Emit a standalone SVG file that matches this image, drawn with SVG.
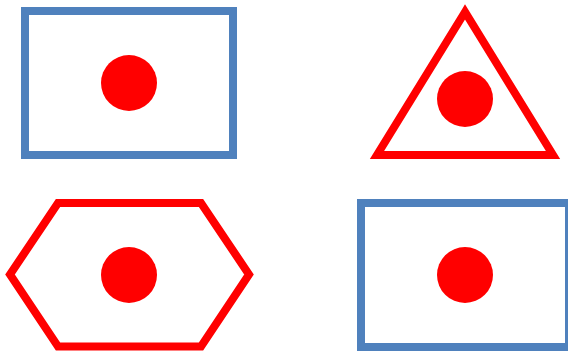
<svg xmlns="http://www.w3.org/2000/svg" width="568" height="353" viewBox="0 0 568 353">
<style>
.blue{fill:#fff;stroke:#4F81BD;stroke-width:8}
.red{fill:#fff;stroke:#FF0000;stroke-width:8;stroke-linejoin:miter}
.dot{fill:#FF0000}
</style>
<rect width="568" height="353" fill="#fff"/>
<g id="rect-top-left">
<rect class="blue" x="25" y="11" width="208" height="144"/>
<circle class="dot" cx="129" cy="83" r="28"/>
</g>
<g id="triangle">
<polygon class="red" points="465,12 377,155 553,155"/>
<circle class="dot" cx="465" cy="99" r="28"/>
</g>
<g id="hexagon">
<polygon class="red" points="10,274.5 58,203 201,203 249,274.5 201,346.5 58,346.5"/>
<circle class="dot" cx="129" cy="275" r="28"/>
</g>
<g id="rect-bottom-right">
<rect class="blue" x="361" y="203" width="208" height="144"/>
<circle class="dot" cx="465" cy="275" r="28"/>
</g>
<g id="connectors"/>
</svg>
